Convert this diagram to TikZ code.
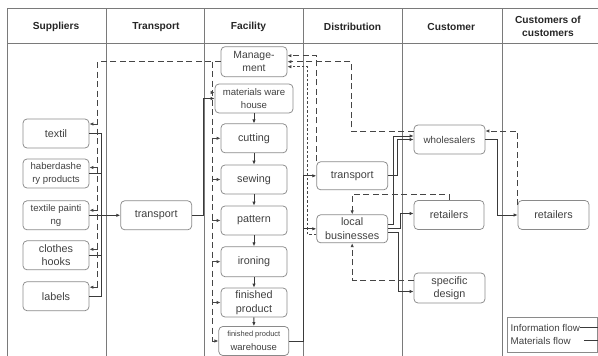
\documentclass[tikz,border=0pt]{standalone}
\usepackage{fontspec}
\setmainfont{Liberation Sans}
\usetikzlibrary{arrows.meta}
\definecolor{txtgray}{HTML}{404040}
\definecolor{boxgray}{HTML}{8A8A8A}
\definecolor{gridgray}{HTML}{7A7A7A}
\definecolor{matgray}{HTML}{3A3A3A}
\definecolor{infogray}{HTML}{454545}

\begin{document}
\begin{tikzpicture}[x=1pt, y=-1pt, >={Latex[length=4pt,width=3.4pt]}]
\tikzstyle{box}=[draw=boxgray, line width=0.75pt, rounded corners=4pt, align=center, text=txtgray, minimum width=66pt, minimum height=29pt, inner sep=1pt, font=\fontsize{10.8}{13.5}\selectfont]
\tikzstyle{small}=[font=\fontsize{9.6}{12.5}\selectfont]
\tikzstyle{head}=[font=\bfseries\fontsize{10.2}{13}\selectfont, align=center, text=black!85]
\tikzstyle{grid}=[draw=gridgray, line width=0.8pt]
\tikzstyle{mat}=[draw=matgray, line width=1pt]
\tikzstyle{info}=[draw=infogray, line width=1pt, dash pattern=on 6pt off 3.5pt]
\tikzstyle{legend}=[anchor=west, inner sep=0pt, text=txtgray, font=\fontsize{9.8}{12}\selectfont]
\useasboundingbox (0,0) rectangle (598,356);

\draw[grid] (7,8) -- (598,8) (7,43.5) -- (598,43.5);
\foreach \x in {7,106.5,204.5,303.5,402.5,502.3}
{
\draw[grid] (\x,8) -- (\x,356);
}
\foreach \x/\t in {56/Suppliers,156/Transport,248.5/Facility,352.5/Distribution,451.3/Customer}
{
\path (\x,27) node[head] (h\t) {\t};
}
\path (548,26.7) node[head] (hCoC) {Customers of\\customers};

\path (56,133.5) node[box] (textil) {textil};
\path (56,173.5) node[box,small] (haber) {haberdashe\\ry products};
\path (56,215.3) node[box,small] (paint) {textile painti\\ng};
\path (56,255.3) node[box] (clothes) {clothes\\hooks};
\path (56,296.2) node[box] (labels) {labels};

\path (156.2,215.3) node[box,minimum width=71pt] (transport) {transport};

\path (254,61.7) node[box,minimum height=30pt,font=\fontsize{10.4}{13.3}\selectfont] (mgmt) {Manage-\\ment};
\path (254,98.5) node[box,small,minimum width=78pt] (matwh) {materials ware\\house};
\path (254,138.3) node[box] (cutting) {cutting};
\path (254,179.5) node[box] (sewing) {sewing};
\path (254,220.5) node[box] (pattern) {pattern};
\path (254,261.7) node[box,minimum height=30pt] (ironing) {ironing};
\path (254,302.5) node[box] (finished) {finished\\product};
\path (253.8,341) node[box,minimum width=70pt] (fpwh) {{\fontsize{7.5}{9.5}\selectfont finished product}\\\fontsize{9.5}{10}\selectfont warehouse};

\path (352.2,175.8) node[box,minimum width=71pt,minimum height=28pt] (dtrans) {transport};
\path (352.2,228.8) node[box,minimum width=71pt,minimum height=28pt] (local) {local\\businesses};

\path (449.5,139.5) node[box,minimum width=71pt,font=\fontsize{9.8}{12}\selectfont] (wholes) {wholesalers};
\path (449,215) node[box,minimum width=70pt] (cretail) {retailers};
\path (449.5,288) node[box,minimum width=71pt,minimum height=30pt] (specific) {specific\\design};

\path (553.5,215) node[box,minimum width=71pt] (ccretail) {retailers};

\coordinate (sbus) at (101,215.3);
\foreach \s in {textil,haber,clothes,labels}
{
\draw[mat] (\s.east) -| (sbus);
}
\draw[mat,->] (paint) -- (transport);
\draw[mat,->] (transport.east) -- ++(11,0) |- (matwh.west);
\foreach \a/\b in {matwh/cutting,cutting/sewing,sewing/pattern,pattern/ironing,ironing/finished,finished/fpwh}
{
\draw[mat,->] (\a) -- (\b);
}
\draw[mat,->] (fpwh.east) -- ++(14,0) |- (dtrans.west);
\draw[mat,->] (fpwh.east) -- ++(14,0) |- (local.west);
\draw[mat,->] (dtrans.east) -- ++(9.5,0) |- (wholes.west);
\draw[mat,->] ([yshift=4.5pt]local.east) -- ++(5,0) |- ([yshift=3.5pt]wholes.west);
\draw[mat,->] (local.east) -- ++(12.5,0) |- ([yshift=1.5pt]cretail.west);
\draw[mat,->] ([yshift=-3.5pt]local.east) -- ++(10.5,0) |- ([yshift=-3.5pt]specific.west);
\draw[mat,->] (wholes.east) -- ++(12.5,0) |- (ccretail.west);

\coordinate (sinfo) at (97.5,61.7);
\foreach \s/\d in {textil/9.5,haber/6,paint/5,clothes/6,labels/9}
{
\coordinate (\s-in) at ([yshift=\d pt]\s.east);
\draw[info,->] (sinfo |- \s-in) -- (\s-in);
}
\draw[info] (mgmt.west) -| (sinfo |- labels-in);

\coordinate (finfo) at (212.3,61.7);
\coordinate (matwh-in) at ([yshift=6pt]matwh.west);
\draw[info] (finfo) -- (finfo |- fpwh.west);
\foreach \b in {matwh-in,cutting.west,sewing.west,pattern.west,ironing.west,finished.west,fpwh.west}
{
\draw[info,->] (finfo |- \b) -- (\b);
}

\draw[info,->] ([xshift=0.5pt]dtrans.north west) |- ([yshift=6pt]mgmt.east);
\draw[info,->] ([yshift=8pt]wholes.west) -- ++(-62.3,0) |- (mgmt.east);
\draw[info,->,line width=0.7pt,dash pattern=on 2.5pt off 2pt] ([yshift=-6pt]local.west) -- ++(-8.5,0) |- ([yshift=-5pt]mgmt.east);
\draw[info,->] ([yshift=10pt]ccretail.west) |- ([yshift=8.5pt]wholes.east);
\draw[info,->] (cretail.north) -- ++(0,-5.7) -| (local.north);
\draw[info,->] ([yshift=8pt]specific.west) -| (local.south);

\draw[draw=boxgray, line width=0.6pt] (507.7,317) rectangle (597.5,352.7);
\path (510.5,327.5) node[legend] (linfo) {Information flow};
\path (510.5,340.7) node[legend] (lmat) {Materials flow};
\draw[mat] (linfo.east) -- ++(18,0);
\draw[mat] ([xshift=13pt]lmat.east) -- ++(16,0);
\end{tikzpicture}
\end{document}
